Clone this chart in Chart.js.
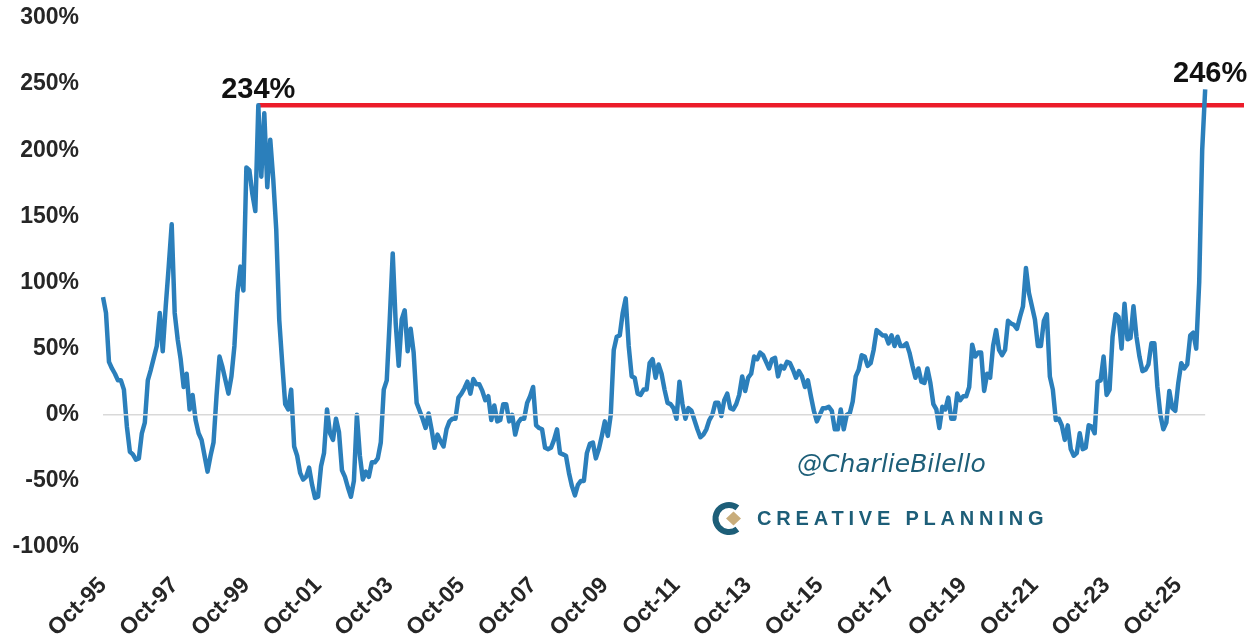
<!DOCTYPE html>
<html>
<head>
<meta charset="utf-8">
<title>Chart</title>
<script src="https://cdn.jsdelivr.net/npm/chart.js@4"></script>
<style>
  html, body { margin: 0; padding: 0; background: #fff; }
  #wrap { width: 1259px; height: 641px; }
  canvas { filter: blur(0.5px); }
</style>
</head>
<body>
<div id="wrap"><canvas id="mainChart" width="1259" height="641"></canvas></div>
<script>
// monthly values from Oct-95
const seriesValues = [
  89,77,40,35,31,26,26,19,-9,-28,-30,-34,-33,-14,-6,26,34,43,52,77,48,82,112,144,
  77,57,42,21,31,4,15,-4,-14,-19,-31,-43,-31,-21,14,44,36,26,16,29,52,92,112,94,
  187,185,167,154,234,180,228,172,208,178,140,72,39,8,4,19,-24,-31,-44,-49,-47,-40,-53,-63,
  -62,-39,-29,4,-14,-19,-3,-13,-42,-47,-55,-62,-50,0,-31,-49,-43,-47,-36,-36,-33,-21,19,26,
  72,122,69,37,72,79,48,65,47,9,3,-3,-10,1,-11,-25,-15,-20,-24,-11,-5,-3,-3,13,
  16,20,25,16,27,23,23,18,11,14,-4,7,-5,-4,8,8,-5,0,-15,-6,-3,-3,9,14,21,
  -8,-10,-11,-25,-26,-25,-19,-11,-29,-30,-31,-44,-54,-61,-53,-50,-50,-29,-22,-21,-33,-26,-16,-5,
  -16,0,49,59,60,77,88,52,29,28,16,15,19,19,39,42,28,38,31,19,9,8,5,-3,
  25,8,-3,5,3,-4,-11,-17,-15,-11,-4,0,9,9,-1,11,16,5,4,8,15,29,18,28,
  31,44,42,47,45,40,35,42,43,29,37,35,40,39,34,28,33,29,21,26,14,3,-5,0,
  5,5,6,3,-11,-11,4,-11,0,1,10,29,34,45,44,37,39,49,64,62,60,60,54,60,52,
  59,52,52,54,47,37,28,35,25,24,35,24,8,4,-10,6,4,13,-3,-3,16,11,14,14,
  21,53,44,47,47,18,31,28,52,64,49,45,49,71,69,68,65,74,82,111,92,82,72,52,
  52,71,76,29,19,-4,-3,-8,-19,-8,-26,-31,-29,-14,-26,-25,-8,-9,-14,25,26,44,15,19,
  59,76,74,50,84,57,58,82,59,44,33,34,38,54,54,21,0,-11,-6,18,5,3,24,39,
  35,38,60,62,50,100,200,246
];
const peakIndex = 52;
const peakLevel = 234;
const lastLevel = 246;
const yTicks = [-100, -50, 0, 50, 100, 150, 200, 250, 300];
const monthNames = ['Jan','Feb','Mar','Apr','May','Jun','Jul','Aug','Sep','Oct','Nov','Dec'];
const extraMonths = 13; // room on the right for the red line

const categories = [];
for (let i = 0; i < seriesValues.length + extraMonths; i++) {
  const m = 9 + i;
  const yr = 1995 + Math.floor(m / 12);
  categories.push(monthNames[m % 12] + '-' + String(yr).slice(2));
}

const zeroLine = seriesValues.map(() => 0);
const peakLine = categories.map((c, i) => (i >= peakIndex ? peakLevel : null));

const inkColor = '#262626';
const tealColor = '#1d5e78';

const textOverlay = {
  id: 'textOverlay',
  afterDatasetsDraw(chart) {
    const { ctx, scales: { x, y } } = chart;
    ctx.save();
    ctx.fillStyle = '#111';
    ctx.font = 'bold 29px "Liberation Sans"';
    ctx.textAlign = 'center';
    ctx.textBaseline = 'alphabetic';
    ctx.fillText(peakLevel + '%', x.getPixelForValue(peakIndex), y.getPixelForValue(peakLevel) - 7);
    ctx.fillText(lastLevel + '%', x.getPixelForValue(seriesValues.length - 1) + 5, y.getPixelForValue(lastLevel) - 7);

    // watermark
    ctx.fillStyle = tealColor;
    ctx.textAlign = 'left';
    ctx.font = 'italic 25px "DejaVu Sans"';
    ctx.fillText('@CharlieBilello', 797, 472);
    ctx.font = 'bold 20px "Liberation Sans"';
    ctx.letterSpacing = '4.8px';
    ctx.fillText('CREATIVE PLANNING', 757, 525);
    ctx.letterSpacing = '0px';

    // logo mark
    ctx.strokeStyle = tealColor;
    ctx.lineWidth = 6;
    ctx.beginPath();
    ctx.arc(729, 518.5, 13.5, 0.9, Math.PI * 2 - 0.9, false);
    ctx.stroke();
    ctx.fillStyle = '#c9ad7b';
    ctx.beginPath();
    ctx.moveTo(726, 518.5);
    ctx.lineTo(733.5, 511.5);
    ctx.lineTo(741, 518.5);
    ctx.lineTo(733.5, 525.5);
    ctx.closePath();
    ctx.fill();
    ctx.restore();
  }
};

new Chart(document.getElementById('mainChart').getContext('2d'), {
  type: 'line',
  data: {
    labels: categories,
    datasets: [
      { data: zeroLine, borderColor: '#d9d9d9', borderWidth: 1.5, pointRadius: 0 },
      { data: seriesValues, borderColor: '#2b7fbb', borderWidth: 4.5, pointRadius: 0, tension: 0, borderJoinStyle: 'round' },
      { data: peakLine, borderColor: '#ec1c2a', borderWidth: 4.5, pointRadius: 0, borderCapStyle: 'butt' }
    ]
  },
  plugins: [textOverlay],
  options: {
    responsive: false,
    animation: false,
    layout: { padding: { top: 18, right: 15, left: 0, bottom: 0 } },
    plugins: { legend: { display: false }, tooltip: { enabled: false } },
    scales: {
      x: {
        offset: false,
        border: { display: false },
        grid: { display: false, drawTicks: false },
        afterFit(axis) { axis.height = 94; axis.paddingLeft = 0; axis.paddingRight = 0; },
        ticks: {
          autoSkip: false,
          minRotation: 45,
          maxRotation: 45,
          padding: 25,
          color: inkColor,
          font: { family: '"Liberation Sans"', size: 23, weight: 'bold' },
          callback(value, index) {
            return index % 24 === 0 && index < seriesValues.length ? categories[index] : '';
          }
        }
      },
      y: {
        min: yTicks[0],
        max: yTicks[yTicks.length - 1],
        border: { display: false },
        grid: { display: false, drawTicks: false },
        afterFit(axis) { axis.width = 103; axis.paddingTop = 0; axis.paddingBottom = 0; },
        afterBuildTicks(axis) { axis.ticks = yTicks.map(v => ({ value: v })); },
        ticks: {
          padding: 24,
          color: inkColor,
          font: { family: '"Liberation Sans"', size: 23, weight: 'bold' },
          callback: v => v + '%'
        }
      }
    }
  }
});
</script>
</body>
</html>
